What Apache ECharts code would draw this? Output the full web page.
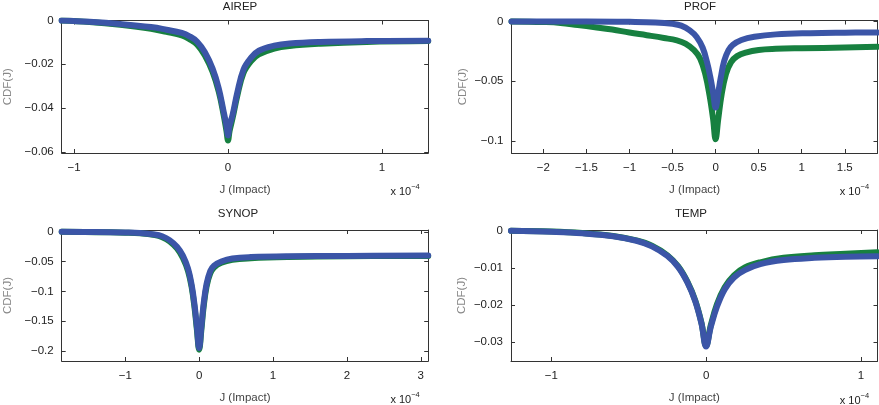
<!DOCTYPE html>
<html>
<head>
<meta charset="utf-8">
<script src="https://cdn.jsdelivr.net/npm/echarts@6/dist/echarts.min.js"></script>
<style>
  html, body { margin: 0; padding: 0; background: #fff; }
  #chart { width: 879px; height: 405px; }
</style>
</head>
<body>
<div id="chart"></div>
<script>
// x values are in units of 1e-4 (axis note "x 10^-4")

// AIREP
var airepX = [-1.08, -0.9, -0.7, -0.5, -0.4, -0.3, -0.25, -0.2, -0.15, -0.1, -0.06, -0.03, -0.01, 0, 0.01, 0.03, 0.06, 0.1, 0.15, 0.2, 0.3, 0.4, 0.6, 0.9, 1.3];
var airepGreen = [0, -0.0007, -0.002, -0.0038, -0.0052, -0.0068, -0.0085, -0.011, -0.016, -0.0235, -0.0325, -0.0425, -0.0505, -0.0548, -0.0505, -0.0445, -0.0345, -0.024, -0.0185, -0.0155, -0.0128, -0.0116, -0.0106, -0.0098, -0.0094];
var airepBlue = [0, -0.0006, -0.0016, -0.003, -0.0042, -0.0057, -0.0072, -0.0097, -0.0145, -0.022, -0.031, -0.041, -0.048, -0.0525, -0.048, -0.043, -0.033, -0.0225, -0.017, -0.0138, -0.0115, -0.0105, -0.0098, -0.0094, -0.0092];

// PROF
var profGreenX = [-2.37, -2.0, -1.8, -1.6, -1.4, -1.2, -1.0, -0.8, -0.6, -0.45, -0.35, -0.25, -0.18, -0.12, -0.07, -0.03, 0, 0.03, 0.07, 0.12, 0.18, 0.25, 0.35, 0.5, 0.7, 1.0, 1.5, 1.88];
var profGreen = [0, -0.0005, -0.0012, -0.003, -0.0048, -0.0068, -0.0093, -0.0115, -0.0138, -0.0158, -0.0185, -0.024, -0.031, -0.044, -0.062, -0.081, -0.0985, -0.082, -0.061, -0.044, -0.034, -0.029, -0.026, -0.0238, -0.0229, -0.0224, -0.0218, -0.0212];
var profBlueX = [-2.37, -1.5, -1.0, -0.7, -0.5, -0.4, -0.3, -0.22, -0.15, -0.1, -0.06, -0.03, 0, 0.03, 0.06, 0.1, 0.15, 0.2, 0.3, 0.45, 0.7, 1.1, 1.5, 1.88];
var profBlue = [0, 0, -0.0003, -0.0008, -0.002, -0.0035, -0.0075, -0.013, -0.022, -0.034, -0.047, -0.059, -0.072, -0.06, -0.047, -0.033, -0.024, -0.0195, -0.0155, -0.0128, -0.0108, -0.0098, -0.0094, -0.0092];

// SYNOP
var synopX = [-1.86, -1.4, -1.0, -0.8, -0.6, -0.5, -0.4, -0.3, -0.22, -0.15, -0.1, -0.06, -0.03, 0, 0.03, 0.06, 0.1, 0.15, 0.2, 0.3, 0.45, 0.7, 1.2, 2.0, 3.1];
var synopGreen = [0, -0.0006, -0.0015, -0.0025, -0.0055, -0.009, -0.016, -0.028, -0.044, -0.066, -0.094, -0.13, -0.165, -0.198, -0.165, -0.127, -0.092, -0.07, -0.06, -0.052, -0.047, -0.0445, -0.0425, -0.041, -0.0405];
var synopBlue = [0, -0.0005, -0.0012, -0.002, -0.0045, -0.0075, -0.014, -0.025, -0.04, -0.062, -0.09, -0.125, -0.16, -0.195, -0.16, -0.122, -0.088, -0.066, -0.057, -0.05, -0.045, -0.0425, -0.041, -0.0405, -0.04];

// TEMP
var tempX = [-1.26, -1.0, -0.8, -0.6, -0.45, -0.35, -0.25, -0.18, -0.12, -0.07, -0.03, 0, 0.03, 0.07, 0.12, 0.18, 0.25, 0.35, 0.5, 0.7, 0.9, 1.107];
var tempGreen = [0, -0.0002, -0.0006, -0.0014, -0.0026, -0.004, -0.0066, -0.0096, -0.0138, -0.0188, -0.0248, -0.031, -0.0255, -0.0198, -0.0152, -0.012, -0.0099, -0.0085, -0.0073, -0.0066, -0.0062, -0.0058];
var tempBlue = [0, -0.0003, -0.0007, -0.0015, -0.0027, -0.0042, -0.0068, -0.0098, -0.014, -0.019, -0.025, -0.0312, -0.026, -0.0205, -0.0158, -0.0126, -0.0106, -0.009, -0.0079, -0.0073, -0.007, -0.0069];

// tick labels
var airepXTicks = [-1, 0, 1];
var airepYTicks = [-0.06, -0.04, -0.02, 0];
var profXTicks = [-2, -1.5, -1, -0.5, 0, 0.5, 1, 1.5];
var profYTicks = [-0.1, -0.05, 0];
var synopXTicks = [-1, 0, 1, 2, 3];
var synopYTicks = [-0.2, -0.15, -0.1, -0.05, 0];
var tempXTicks = [-1, 0, 1];
var tempYTicks = [-0.03, -0.02, -0.01, 0];

var titles = ['AIREP', 'PROF', 'SYNOP', 'TEMP'];

var GREEN = '#178040';
var BLUE = '#3b55a7';
var FONT = '"Liberation Sans", Arial, sans-serif';

function pairs(xs, ys) {
    var out = [];
    for (var i = 0; i < xs.length; i++) {
        out.push([xs[i], ys[i]]);
    }
    return out;
}

function fmt(v) {
    return (v < 0 ? '\u2212' : '') + Math.abs(v);
}

// panel layout (px)
var panels = [
    {grid: {left: 61.7, top: 20.5, width: 366.5, height: 132.5}, xr: [-1.08, 1.30], yr: [-0.0605, 0],
     xt: airepXTicks, yt: airepYTicks, nameGap: 48, titleX: 240, titleY: 6.7,
     green: pairs(airepX, airepGreen), blue: pairs(airepX, airepBlue)},
    {grid: {left: 511.5, top: 20.5, width: 366, height: 132.5}, xr: [-2.37, 1.88], yr: [-0.11, 0.0008],
     xt: profXTicks, yt: profYTicks, nameGap: 43, titleX: 700, titleY: 6.7,
     green: pairs(profGreenX, profGreen), blue: pairs(profBlueX, profBlue)},
    {grid: {left: 61.7, top: 230, width: 366.5, height: 131}, xr: [-1.86, 3.10], yr: [-0.217, 0.003],
     xt: synopXTicks, yt: synopYTicks, nameGap: 48, titleX: 238, titleY: 214,
     green: pairs(synopX, synopGreen), blue: pairs(synopX, synopBlue)},
    {grid: {left: 511, top: 230, width: 366.5, height: 131.5}, xr: [-1.26, 1.107], yr: [-0.0351, 0.0002],
     xt: tempXTicks, yt: tempYTicks, nameGap: 43, titleX: 691, titleY: 214,
     green: pairs(tempX, tempGreen), blue: pairs(tempX, tempBlue)}
];

var grids = [], xAxes = [], yAxes = [], series = [], graphics = [];
var axisLine = {show: true, onZero: false, lineStyle: {color: '#333', width: 1}};

panels.forEach(function (p, i) {
    var g = p.grid;
    grids.push({left: g.left, top: g.top, width: g.width, height: g.height, show: false, containLabel: false});

    // bottom axis with labels
    xAxes.push({
        type: 'value', gridIndex: i, position: 'bottom', min: p.xr[0], max: p.xr[1],
        axisLine: axisLine, splitLine: {show: false},
        axisTick: {show: true, inside: true, length: 4, customValues: p.xt, lineStyle: {color: '#333'}},
        axisLabel: {show: true, customValues: p.xt, formatter: fmt, color: '#222', fontSize: 11.5, fontFamily: FONT, margin: 9},
        name: 'J (Impact)', nameLocation: 'middle', nameGap: 31,
        nameTextStyle: {color: '#444', fontSize: 11.5, fontFamily: FONT}
    });
    // top axis, ticks only
    xAxes.push({
        type: 'value', gridIndex: i, position: 'top', min: p.xr[0], max: p.xr[1],
        axisLine: axisLine, splitLine: {show: false},
        axisTick: {show: true, inside: true, length: 4, customValues: p.xt, lineStyle: {color: '#333'}},
        axisLabel: {show: false}
    });
    yAxes.push({
        type: 'value', gridIndex: i, position: 'left', min: p.yr[0], max: p.yr[1],
        axisLine: axisLine, splitLine: {show: false},
        axisTick: {show: true, inside: true, length: 4, customValues: p.yt, lineStyle: {color: '#333'}},
        axisLabel: {show: true, customValues: p.yt, formatter: fmt, color: '#222', fontSize: 11.5, fontFamily: FONT, margin: 8},
        name: 'CDF(J)', nameLocation: 'middle', nameGap: p.nameGap,
        nameTextStyle: {color: '#888', fontSize: 11.5, fontFamily: FONT}
    });
    yAxes.push({
        type: 'value', gridIndex: i, position: 'right', min: p.yr[0], max: p.yr[1],
        axisLine: axisLine, splitLine: {show: false},
        axisTick: {show: true, inside: true, length: 4, customValues: p.yt, lineStyle: {color: '#333'}},
        axisLabel: {show: false}
    });

    series.push({
        type: 'line', xAxisIndex: i * 2, yAxisIndex: i * 2, data: p.green,
        showSymbol: false, smooth: 0.4, silent: true,
        lineStyle: {color: GREEN, width: 6, cap: 'round', join: 'round'}
    });
    series.push({
        type: 'line', xAxisIndex: i * 2, yAxisIndex: i * 2, data: p.blue,
        showSymbol: false, smooth: 0.4, silent: true,
        lineStyle: {color: BLUE, width: 6, cap: 'round', join: 'round'}
    });

    // title
    graphics.push({
        type: 'text', x: p.titleX, y: p.titleY,
        style: {text: titles[i], fill: '#222', fontSize: 11.5, fontFamily: FONT, align: 'center', verticalAlign: 'middle'}
    });
    // exponent note
    var right = g.left + g.width;
    var baseY = g.top + g.height + 39;
    graphics.push({
        type: 'text', x: right - 17, y: baseY,
        style: {text: 'x 10', fill: '#222', fontSize: 11, fontFamily: FONT, align: 'right', verticalAlign: 'middle'}
    });
    graphics.push({
        type: 'text', x: right - 17, y: baseY - 5,
        style: {text: '\u22124', fill: '#222', fontSize: 7.5, fontFamily: FONT, align: 'left', verticalAlign: 'middle'}
    });
});

var chart = echarts.init(document.getElementById('chart'));
chart.setOption({
    animation: false,
    backgroundColor: '#fff',
    grid: grids,
    xAxis: xAxes,
    yAxis: yAxes,
    series: series,
    graphic: graphics
});
</script>
</body>
</html>
